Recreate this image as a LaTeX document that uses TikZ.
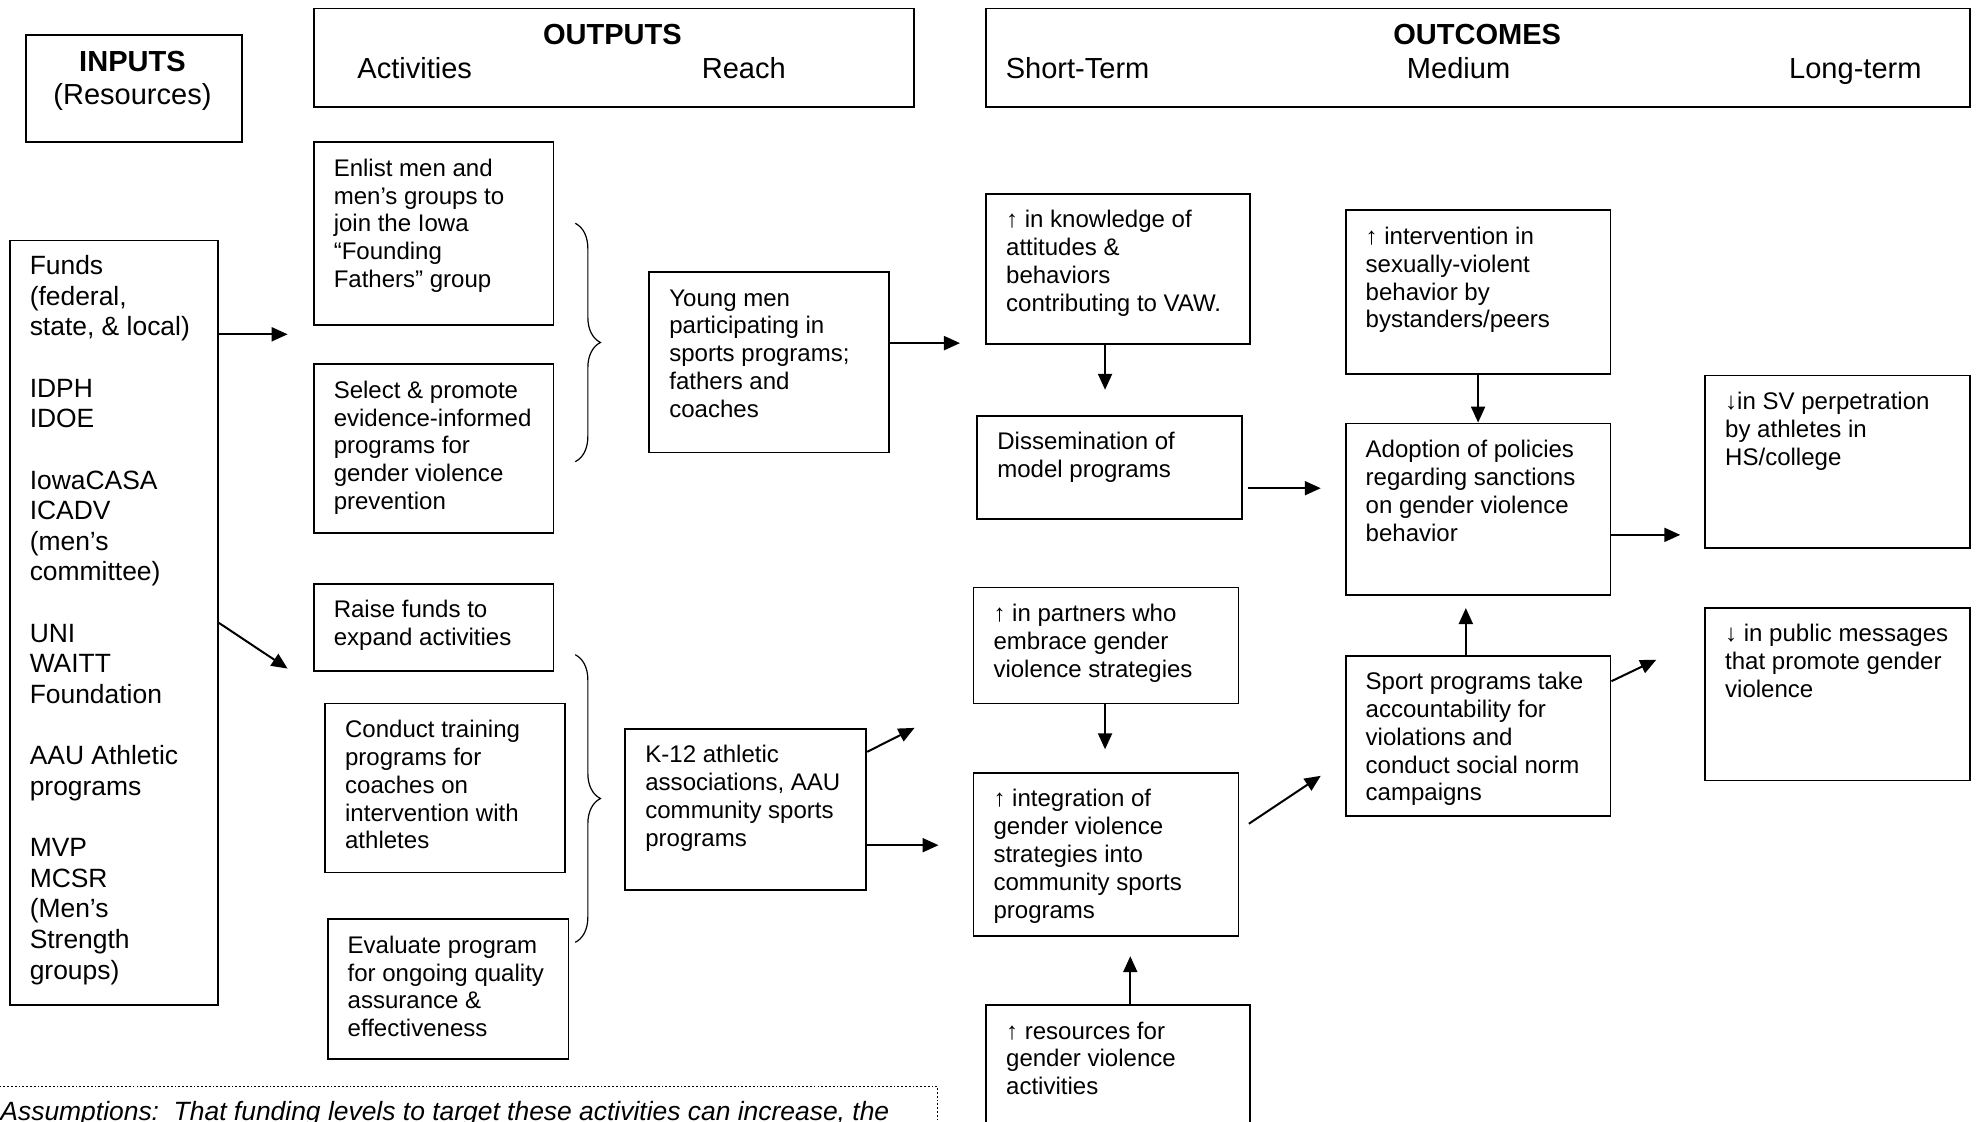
\documentclass[tikz,border=0pt]{standalone}
\usepackage{fontspec}
\setmainfont{Liberation Sans}
\usetikzlibrary{arrows.meta,calc,decorations.pathreplacing}
\newlength\ux \setlength\ux{0.63pt}
% text box: width, height (in units of \ux), text
\newcommand{\boxcell}[3]{\parbox[t][#2\ux][t]{#1\ux}{\leftskip=10pt\rightskip=0pt plus 1fil\hyphenpenalty=10000\exhyphenpenalty=10000\rule{0pt}{17pt}#3}}

\begin{document}
\begin{tikzpicture}[x=0.63pt,y=-0.63pt,
  box/.style={draw,line width=0.9pt,anchor=north west,inner sep=0pt,font=\fontsize{12}{13.9}\selectfont},
  head/.style={inner sep=0pt,font=\fontsize{14.5}{16.7}\selectfont},
  headb/.style={inner sep=0pt,font=\fontsize{14.5}{16.7}\selectfont\bfseries},
  arr/.style={-{Triangle[length=8pt,width=7pt]},line width=1pt},
  curly/.style={decorate,decoration={brace,amplitude=12.6pt},line width=0.6pt}]
\useasboundingbox (0,0) rectangle (1568,889);
\clip (0,0) rectangle (1568,889);
%
% headings
\node[box] (inputs) at (20,27) {\boxcell{171}{85}{}};
\node[headb,anchor=base] (inputsT) at (105,56.5) {INPUTS};
\node[head,anchor=base] (inputsR) at (105,83) {(Resources)};
\node[box] (outputs) at (248,6) {\boxcell{476}{78}{}};
\node[headb,anchor=base] (outputsT) at (485.5,35) {OUTPUTS};
\node[head,anchor=base west] (activities) at (283,62) {Activities};
\node[head,anchor=base west] (reach) at (556,62) {Reach};
\node[box] (outcomes) at (781,6) {\boxcell{780}{78}{}};
\node[headb,anchor=base] (outcomesT) at (1171,35) {OUTCOMES};
\node[head,anchor=base west] (shortterm) at (797,62) {Short-Term};
\node[head,anchor=base west] (medium) at (1115,62) {Medium};
\node[head,anchor=base west] (longterm) at (1418,62) {Long-term};
%
% inputs
\node[box,font=\fontsize{13.2}{15.3}\selectfont] (funds) at (7,190) {\boxcell{165}{606}{Funds\\ (federal,\\ state, \& local)\\[15.3pt] IDPH\\ IDOE\\[15.3pt] IowaCASA\\ ICADV\\ (men’s\\ committee)\\[15.3pt] UNI\\ WAITT\\ Foundation\\[15.3pt] AAU Athletic\\ programs\\[15.3pt] MVP\\ MCSR\\ (Men’s\\ Strength\\ groups)}};
%
% activities
\node[box] (enlist) at (248,112) {\boxcell{190}{145}{Enlist men and\\ men’s groups to\\ join the Iowa\\ “Founding\\ Fathers” group}};
\node[box] (select) at (248,288) {\boxcell{190}{134}{Select \& promote\\ evidence-informed\\ programs for\\ gender violence\\ prevention}};
\node[box] (raise) at (248,462) {\boxcell{190}{69}{Raise funds to\\ expand activities}};
\node[box] (conduct) at (257,557) {\boxcell{190}{134}{Conduct training\\ programs for\\ coaches on\\ intervention with\\ athletes}};
\node[box] (evaluate) at (259,728) {\boxcell{191}{111}{Evaluate program\\ for ongoing quality\\ assurance \&\\ effectiveness}};
\draw[curly] (456,177) -- (456,366);
\draw[curly] (456,519) -- (456,747);
%
% reach
\node[box] (young) at (514,215) {\boxcell{190}{143}{Young men\\ participating in\\ sports programs;\\ fathers and\\ coaches}};
\node[box] (kteen) at (495,577) {\boxcell{191}{128}{K-12 athletic\\ associations, AAU\\ community sports\\ programs}};
%
% short-term
\node[box] (knowledge) at (781,153) {\boxcell{209}{119}{↑ in knowledge of\\ attitudes \&\\ behaviors\\ contributing to VAW.}};
\node[box] (dissem) at (774,329) {\boxcell{210}{82}{Dissemination of\\ model programs}};
\node[box] (partners) at (771,465) {\boxcell{210}{92}{↑ in partners who\\ embrace gender\\ violence strategies}};
\node[box] (integration) at (771,612) {\boxcell{210}{129}{↑ integration of\\ gender violence\\ strategies into\\ community sports\\ programs}};
\node[box] (resources) at (781,796) {\boxcell{209}{130}{↑ resources for\\ gender violence\\ activities}};
%
% medium
\node[box] (intervention) at (1066,166) {\boxcell{210}{130}{↑ intervention in\\ sexually-violent\\ behavior by\\ bystanders/peers}};
\node[box] (adoption) at (1066,335) {\boxcell{210}{136}{Adoption of policies\\ regarding sanctions\\ on gender violence\\ behavior}};
\node[box] (sport) at (1066,519) {\boxcell{210}{127}{Sport programs take\\ accountability for\\ violations and\\ conduct social norm\\ campaigns}};
%
% long-term
\node[box] (svperp) at (1351,297) {\boxcell{210}{137}{↓in SV perpetration\\ by athletes in\\ HS/college}};
\node[box] (public) at (1351,481) {\boxcell{210}{137}{↓ in public messages\\ that promote gender\\ violence}};
%
\node[box,densely dotted,line width=0.6pt,font=\fontsize{13.2}{15.3}\selectfont\itshape] (assump) at (-16,861) {\boxcell{759}{100}{Assumptions:\ \ That funding levels to target these activities can increase, the}};
%
% arrows
\coordinate (a1) at (228,265);
\coordinate (a2) at (228,530);
\coordinate (a3) at (761,272);
\coordinate (a4) at (876,309);
\coordinate (a5s) at (989,387);
\coordinate (a5) at (1047,387);
\coordinate (a6) at (876,594);
\coordinate (a7) at (896,758);
\coordinate (a8s) at (990,653);
\coordinate (a8) at (1047,615);
\coordinate (a10) at (1162,482);
\coordinate (a11) at (1332,424);
\coordinate (a12) at (1313,523);
\coordinate (a13) at (725,577);
\coordinate (a14) at (744,670);
\draw[arr] (funds.east |- a1) -- (a1);
\draw[arr] (funds.east) -- (a2);
\draw[arr] (young.east |- a3) -- (a3);
\draw[arr] (kteen.east |- a14) -- (a14);
\draw[arr] ($(kteen.north east)+(0,19)$) -- (a13);
\draw[arr] (knowledge.south -| a4) -- (a4);
\draw[arr] (partners.south -| a6) -- (a6);
\draw[arr] (resources.north -| a7) -- (a7);
\draw[arr] (a5s) -- (a5);
\draw[arr] (a8s) -- (a8);
\draw[arr] (intervention) -- (adoption);
\draw[arr] (sport.north -| a10) -- (a10);
\draw[arr] (adoption.east |- a11) -- (a11);
\draw[arr] ($(sport.north east)+(0,21)$) -- (a12);
\end{tikzpicture}
\end{document}
